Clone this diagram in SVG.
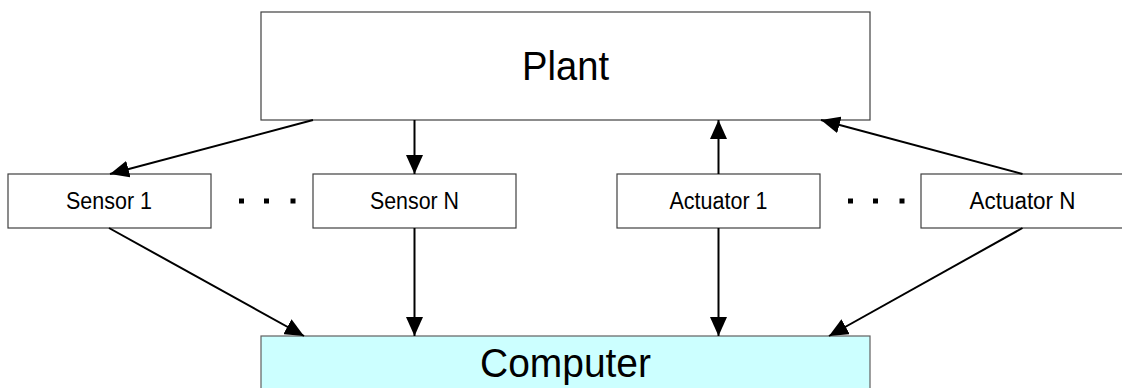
<svg xmlns="http://www.w3.org/2000/svg" width="1122" height="388" viewBox="0 0 1122 388">
<style>
.box{fill:#fff;stroke:#404040;stroke-width:1.2}
.comp{fill:#CCFFFF;stroke:#606060;stroke-width:1.2}
.big{font-family:"Liberation Sans",Arial,sans-serif;font-size:41px;fill:#000;text-anchor:middle}
.small{font-family:"Liberation Sans",Arial,sans-serif;font-size:23px;fill:#000;text-anchor:middle}
.conn line{stroke:#000;stroke-width:2;marker-end:url(#ah)}
.dot{fill:#000}
</style>
<defs>
<marker id="ah" markerUnits="userSpaceOnUse" markerWidth="19" markerHeight="17" refX="19" refY="8.5" orient="auto">
<path d="M0,0 L19,8.5 L0,17 Z" fill="#000"/>
</marker>
</defs>
<rect width="1122" height="388" fill="#fff"/>
<g id="plant">
<rect class="box" x="261" y="12" width="609" height="108"/>
<text class="big" x="565.5" y="79.5" textLength="87" lengthAdjust="spacingAndGlyphs">Plant</text>
</g>
<g id="computer">
<rect class="comp" x="261" y="336" width="609" height="70"/>
<text class="big" x="565.5" y="376.5" textLength="171" lengthAdjust="spacingAndGlyphs">Computer</text>
</g>
<g id="sensor1">
<rect class="box" x="8" y="174" width="203" height="54"/>
<text class="small" x="109" y="208.5" textLength="86" lengthAdjust="spacingAndGlyphs">Sensor 1</text>
</g>
<g id="sensorN">
<rect class="box" x="313" y="174" width="203" height="54"/>
<text class="small" x="414.5" y="208.5" textLength="89" lengthAdjust="spacingAndGlyphs">Sensor N</text>
</g>
<g id="actuator1">
<rect class="box" x="617" y="174" width="203" height="54"/>
<text class="small" x="718.5" y="208.5" textLength="98" lengthAdjust="spacingAndGlyphs">Actuator 1</text>
</g>
<g id="actuatorN">
<rect class="box" x="921" y="174" width="203" height="54"/>
<text class="small" x="1022.5" y="208.5" textLength="106" lengthAdjust="spacingAndGlyphs">Actuator N</text>
</g>
<g id="dots">
<rect class="dot" x="239" y="198.5" width="5" height="5"/>
<rect class="dot" x="264" y="198.5" width="5" height="5"/>
<rect class="dot" x="290.5" y="198.5" width="5" height="5"/>
<rect class="dot" x="848" y="198.5" width="5" height="5"/>
<rect class="dot" x="873" y="198.5" width="5" height="5"/>
<rect class="dot" x="899.5" y="198.5" width="5" height="5"/>
</g>
<g id="connectors" class="conn">
<line x1="313" y1="120" x2="110" y2="174"/>
<line x1="414.5" y1="120" x2="414.5" y2="174"/>
<line x1="718.5" y1="174" x2="718.5" y2="120"/>
<line x1="1022.5" y1="174" x2="821" y2="120"/>
<line x1="109" y1="228" x2="304" y2="336"/>
<line x1="414.5" y1="228" x2="414.5" y2="336"/>
<line x1="718.5" y1="228" x2="718.5" y2="336"/>
<line x1="1022.5" y1="228" x2="829" y2="336"/>
</g>
</svg>
